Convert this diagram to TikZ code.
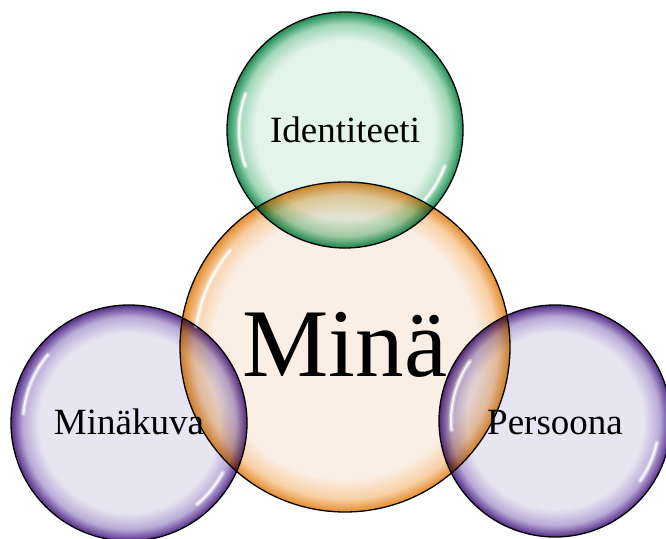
\documentclass[tikz,border=0pt]{standalone}
\usepackage{fontspec}
\setmainfont{Liberation Serif}
\usetikzlibrary{calc}
\definecolor{gin}{RGB}{227,244,234}
\definecolor{gmid}{RGB}{160,215,182}
\definecolor{gout}{RGB}{30,140,85}
\definecolor{oin}{RGB}{251,238,228}
\definecolor{omid}{RGB}{248,208,165}
\definecolor{oout}{RGB}{228,140,45}
\definecolor{pin}{RGB}{231,229,241}
\definecolor{pmid}{RGB}{185,170,215}
\definecolor{pout}{RGB}{85,45,135}
\pgfdeclareradialshading{greenball}{\pgfpoint{0bp}{0bp}}{color(0bp)=(gin); color(19bp)=(gin); color(22.5bp)=(gmid); color(25bp)=(gout); color(50bp)=(gout)}
\pgfdeclareradialshading{orangeball}{\pgfpoint{0bp}{0bp}}{color(0bp)=(oin); color(20bp)=(oin); color(23bp)=(omid); color(25bp)=(oout); color(50bp)=(oout)}
\pgfdeclareradialshading{purpleball}{\pgfpoint{0bp}{0bp}}{color(0bp)=(pin); color(19bp)=(pin); color(22.5bp)=(pmid); color(25bp)=(pout); color(50bp)=(pout)}
\tikzset{
  bubble/.style={circle, inner sep=0pt, outer sep=0pt, shade, shading=#1},
  rim/.style={circle, inner sep=0pt, outer sep=0pt, draw=black, line width=1.3pt},
  gloss/.style={white, line width=5pt, line cap=round, opacity=0.35},
  glosscore/.style={white, line width=2pt, line cap=round, opacity=0.85},
  lbl/.style={anchor=base, inner sep=0pt, font=\fontsize{37}{40}\selectfont},
}
\begin{document}
\begin{tikzpicture}[x=1pt,y=1pt]
\useasboundingbox (0,0) rectangle (666,538);
\clip (0,0) rectangle (666,538);
\begin{scope}[blend mode=multiply]
  \node[bubble=orangeball, minimum size=330pt] (mina) at (345,191) {};
  \node[bubble=greenball, minimum size=236pt] (ident) at (345,408) {};
  \node[bubble=purpleball, minimum size=236pt] (kuva) at (129,115) {};
  \node[bubble=purpleball, minimum size=232pt] (pers) at (555,117) {};
\end{scope}
% glossy highlights
\foreach \c/\r/\a/\b in {mina/150/140/172, ident/106/160/200, ident/106/-20/-42, kuva/106/140/175, kuva/106/-28/-50, pers/104/145/185, pers/104/-12/-35}{
  \draw[gloss] ($(\c.center)+(\a:\r)$) arc (\a:\b:\r);
  \draw[glosscore] ($(\c.center)+(\a:\r)$) arc (\a:\b:\r);
}
% rims
\node[rim, minimum size=330pt] at (mina.center) {};
\node[rim, minimum size=236pt] at (ident.center) {};
\node[rim, minimum size=236pt] at (kuva.center) {};
\node[rim, minimum size=232pt] at (pers.center) {};
% labels
\node[lbl] (tident) at ([yshift=-13pt]ident.center) {Identiteeti};
\node[anchor=base, inner sep=0pt, font=\fontsize{97}{100}\selectfont] (tmina) at ([yshift=-30pt]mina.center) {Minä};
\node[lbl] (tkuva) at ([yshift=-12pt]kuva.center) {Minäkuva};
\node[lbl] (tpers) at ([yshift=-14pt]pers.center) {Persoona};
\end{tikzpicture}
\end{document}
